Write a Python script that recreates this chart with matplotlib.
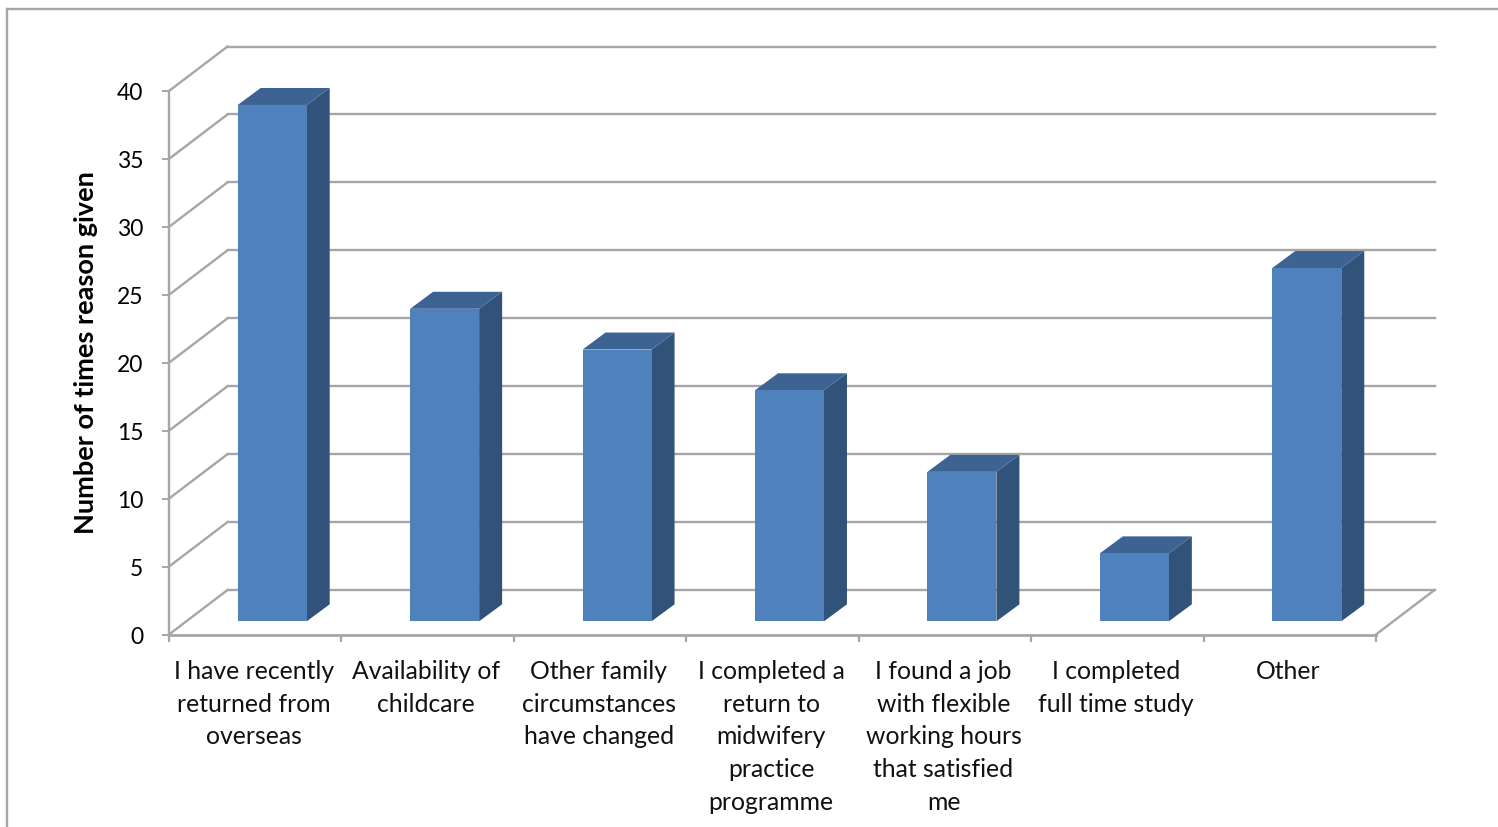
import matplotlib
matplotlib.use("Agg")
import matplotlib.pyplot as plt
from matplotlib.patches import Polygon, Rectangle

categories = ["I have recently\nreturned from\noverseas", "Availability of\nchildcare",
              "Other family\ncircumstances\nhave changed", "I completed a\nreturn to\nmidwifery\npractice\nprogramme",
              "I found a job\nwith flexible\nworking hours\nthat satisfied\nme", "I completed\nfull time study", "Other"]
values = [38, 23, 20, 17, 11, 5, 26]
yticks = [0, 5, 10, 15, 20, 25, 30, 35, 40]
ylabel = "Number of times reason given"

W, H = 1498, 828
plt.rcParams['font.family'] = ['Lato', 'DejaVu Sans']
fig = plt.figure(figsize=(W/100, H/100), dpi=100, facecolor='white')
x0, x1, y0, y1 = 169, 1376, 635.5, 92
ax = fig.add_axes([x0/W, 1-y0/H, (x1-x0)/W, (y0-y1)/H])
n = len(categories)
ax.set_xlim(0, n)
ax.set_ylim(0, 40)
ax.patch.set_alpha(0)
for s in ax.spines.values():
    s.set_visible(False)

xu = (x1-x0)/n
yu = (y0-y1)/40
dx_back = 58.5/xu
dy_back = 44.5/yu
grid = '#a6a6a6'
lw = 1.7
for t in yticks:
    ax.plot([0, dx_back], [t, t+dy_back], color=grid, lw=lw, clip_on=False, zorder=1)
    ax.plot([dx_back, n+dx_back], [t+dy_back, t+dy_back], color=grid, lw=lw, clip_on=False, zorder=1)
ax.plot([0, n], [0, 0], color=grid, lw=lw+0.3, clip_on=False, zorder=1)
ax.plot([n, n+dx_back], [0, dy_back], color=grid, lw=lw, clip_on=False, zorder=1)
ax.plot([0, 0], [0, 40], color=grid, lw=lw, clip_on=False, zorder=1)

bw = 69/xu
b_off = 68.7/xu
sx = 23/xu
sy = 17/yu
base = 13.2/yu
for i, v in enumerate(values):
    l = i + b_off
    r = l + bw
    top = v + base
    ax.add_patch(Polygon([(r, base), (r+sx, base+sy), (r+sx, top+sy), (r, top)], closed=True, fc='#325379', ec='none', zorder=3, clip_on=False))
    ax.add_patch(Polygon([(l, top), (l+sx, top+sy), (r+sx, top+sy), (r, top)], closed=True, fc='#3c6391', ec='none', zorder=3, clip_on=False))
    ax.add_patch(Rectangle((l, base), bw, v, fc='#4f81bd', ec='none', zorder=4, clip_on=False))

ax.set_xticks(range(n+1))
ax.set_xticklabels([])
ax.set_yticks(yticks)
ax.set_yticklabels([str(t) for t in yticks], fontsize=16.5, color='black')
ax.tick_params(axis='y', length=5, color=grid, width=1.4, pad=13.5, direction='out')
ax.tick_params(axis='x', length=5, color=grid, width=1.6, direction='out')
for i, c in enumerate(categories):
    ax.annotate(c, xy=(i+0.5, 0), xycoords='data', xytext=(-1, -17.5), textcoords='offset points',
                ha='center', va='top', fontsize=17.8, linespacing=1.515, color='#111111')
ax.set_ylabel(ylabel, fontsize=19.5, fontweight='bold')
ax.yaxis.label.set_va('center')
ax.yaxis.set_label_coords((86-x0)/(x1-x0), (y0-353)/(y0-y1))

fig.add_artist(plt.Line2D([7/W, 7/W], [0, 1-10/H], color=grid, lw=lw))
fig.add_artist(plt.Line2D([7/W, 1], [1-10/H, 1-10/H], color=grid, lw=lw))
fig.savefig('out.png', dpi=100)
